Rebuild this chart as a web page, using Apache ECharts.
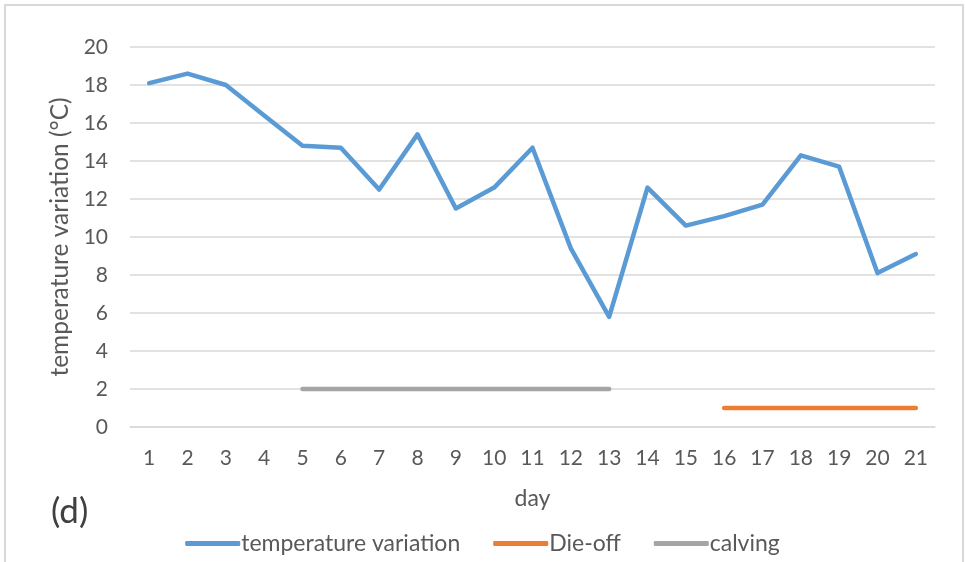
<!DOCTYPE html>
<html>
<head>
<meta charset="utf-8">
<script src="https://cdn.jsdelivr.net/npm/echarts@6/dist/echarts.min.js"></script>
<style>html,body{margin:0;padding:0;background:#fff;}#c{width:965px;height:562px;}</style>
</head>
<body>
<div id="c"></div>
<script>
const days = ['1','2','3','4','5','6','7','8','9','10','11','12','13','14','15','16','17','18','19','20','21'];
const tempVariation = [18.1,18.6,18.0,16.4,14.8,14.7,12.5,15.4,11.5,12.6,14.7,9.4,5.8,12.6,10.6,11.1,11.7,14.3,13.7,8.1,9.1];
const dieOff = [null,null,null,null,null,null,null,null,null,null,null,null,null,null,null,1,1,1,1,1,1];
const calving = [null,null,null,null,2,2,2,2,2,2,2,2,2,null,null,null,null,null,null,null,null];
const yTicks = {min:0, max:20, interval:2};

const FONT = 'Lato';
const TXT = '#595959';
const chart = echarts.init(document.getElementById('c'), null, {renderer:'canvas'});
chart.setOption({
  animation:false,
  textStyle:{fontFamily:FONT},
  graphic:[
    {type:'rect', shape:{x:5, y:5, width:958, height:560}, style:{fill:'none', stroke:'#d9d9d9', lineWidth:2}},
    {type:'text', left:51, top:494, style:{text:'(d)', font:'35px Lato', fill:'#404040'}}
  ],
  grid:{left:130, right:30, top:47, bottom:135, containLabel:false},
  legend:{
    bottom:2, left:'center',
    itemWidth:55, itemHeight:5, itemGap:33,
    icon:'roundRect',
    textStyle:{fontSize:23, color:TXT, fontFamily:FONT, padding:[0,0,0,-4]},
    data:['temperature variation','Die-off','calving']
  },
  xAxis:{
    type:'category', data:days, boundaryGap:true,
    name:'day', nameLocation:'middle', nameGap:60,
    nameTextStyle:{fontSize:23, color:TXT, fontFamily:FONT},
    axisLine:{show:true, lineStyle:{color:'#d9d9d9', width:1.5}},
    axisTick:{show:false},
    axisLabel:{fontSize:21, color:TXT, margin:21, fontFamily:FONT}
  },
  yAxis:{
    type:'value', min:yTicks.min, max:yTicks.max, interval:yTicks.interval,
    name:'temperature variation (°C)', nameLocation:'middle', nameGap:55, nameRotate:90,
    nameTextStyle:{fontSize:24.5, color:TXT, fontFamily:FONT},
    axisLine:{show:false}, axisTick:{show:false},
    axisLabel:{fontSize:21, color:TXT, margin:22, fontFamily:FONT},
    splitLine:{lineStyle:{color:'#d9d9d9', width:1.5}}
  },
  series:[
    {name:'temperature variation', type:'line', data:tempVariation, showSymbol:false, symbol:'none',
     lineStyle:{color:'#5B9BD5', width:4.5, cap:'round', join:'round'}, itemStyle:{color:'#5B9BD5'}},
    {name:'Die-off', type:'line', data:dieOff, showSymbol:false, symbol:'none',
     lineStyle:{color:'#ED7D31', width:4.5, cap:'round'}, itemStyle:{color:'#ED7D31'}},
    {name:'calving', type:'line', data:calving, showSymbol:false, symbol:'none',
     lineStyle:{color:'#A5A5A5', width:4.5, cap:'round'}, itemStyle:{color:'#A5A5A5'}}
  ]
});
</script>
</body>
</html>
